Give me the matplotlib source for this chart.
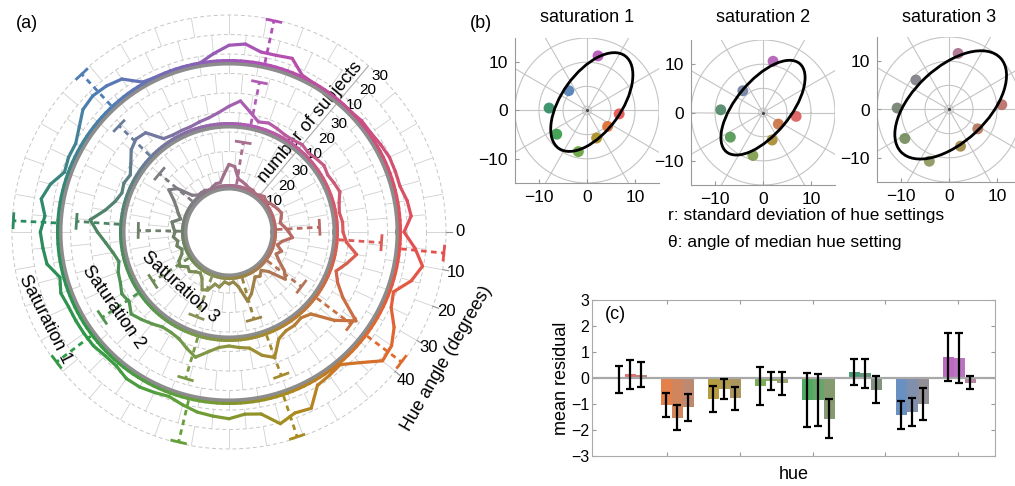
import numpy as np
import matplotlib
matplotlib.use('Agg')
import matplotlib.pyplot as plt
from matplotlib.collections import LineCollection
from matplotlib.colors import to_rgb
from matplotlib.patches import Ellipse

plt.rcParams['font.family'] = ['Liberation Sans', 'DejaVu Sans']

# ---------------- data ----------------
# (a) histograms of hue settings, 5 deg bins (clockwise from 0), number of subjects
bin_angles = np.arange(0, 360, 5)
counts_sat1 = [9, 15, 20, 16, 9, 11, 17, 21, 22, 14, 8, 9,
               10, 19, 18, 21, 14, 13, 15, 14, 13, 11, 9, 10,
               11, 11, 9, 9, 10, 10, 10, 10, 11, 9, 14, 15,
               16, 14, 17, 14, 9, 10, 10, 13, 17, 18, 17, 15,
               8, 7, 7, 7, 7, 11, 15, 16, 13, 13, 14, 8,
               7, 7, 7, 7, 8, 8, 9, 10, 10, 10, 12, 13]
counts_sat2 = [10, 12, 18, 14, 10, 13, 19, 31, 22, 11, 9, 10,
               10, 12, 20, 17, 12, 11, 10, 11, 14, 18, 15, 12,
               11, 11, 13, 15, 17, 14, 15, 13, 12, 10, 12, 15,
               19, 23, 16, 12, 10, 11, 10, 13, 17, 19, 18, 10,
               9, 9, 9, 10, 11, 13, 16, 19, 14, 10, 11, 10,
               9, 9, 10, 9, 10, 11, 10, 11, 12, 10, 9, 10]
counts_sat3 = [14, 16, 11, 9, 12, 10, 13, 18, 21, 12, 9, 11,
               10, 13, 17, 20, 12, 9, 10, 9, 12, 11, 15, 16,
               11, 9, 10, 12, 11, 14, 13, 10, 9, 11, 10, 12,
               11, 12, 13, 9, 11, 13, 16, 21, 18, 10, 8, 8,
               8, 7, 8, 9, 9, 13, 18, 17, 11, 10, 9, 8,
               8, 7, 8, 9, 8, 9, 10, 11, 12, 11, 10, 12]

# median hue angle of the 8 test hues (deg)
hue_sat1 = [5.6, 37, 71.6, 103.5, 143, 183, 227, 282]
hue_sat2 = [4, 37, 70, 106.5, 146, 184, 224, 281.5]
hue_sat3 = [-3, 37, 74, 111, 147, 181, 220, 279]

subject_ticks = [10, 20, 30]
hue_ticks = [0, 10, 20, 30, 40]

# (b) positions of the 8 hues (x, y)
x_sat1 = [6.7, 4.3, 2.0, -1.8, -6.3, -7.9, -3.8, 2.3]
y_sat1 = [-0.7, -3.3, -5.7, -8.5, -4.9, 0.5, 4.1, 11.3]
x_sat2 = [6.9, 3.2, 1.9, -2.1, -6.8, -8.8, -4.2, 2.1]
y_sat2 = [-0.8, -2.4, -5.7, -8.9, -5.1, 0.55, 4.5, 10.6]
x_sat3 = [11.0, 6.0, 2.4, -4.1, -9.2, -10.8, -6.9, 1.9]
y_sat3 = [1.0, -4.0, -7.6, -10.7, -6.0, 0.3, 6.1, 11.6]
# fitted ellipses: centre x, centre y, semi-major, semi-minor, angle (deg)
ell_sat1 = [1.0, 1.75, 11.8, 6.2, 54]
ell_sat2 = [0.0, 1.0, 11.9, 5.6, 50]
ell_sat3 = [0.35, 0.95, 14.2, 7.7, 43]

# (c) mean residual per hue, one list per saturation, and error bars
res_sat1 = [-0.05, -1.03, -0.80, -0.29, -0.84, 0.23, -1.42, 0.82]
res_sat2 = [0.15, -1.52, -0.42, -0.12, -0.84, 0.18, -1.30, 0.77]
res_sat3 = [0.12, -1.13, -0.78, -0.21, -1.56, -0.45, -1.00, -0.18]
err_sat1 = [0.53, 0.47, 0.51, 0.73, 1.03, 0.50, 0.55, 0.92]
err_sat2 = [0.56, 0.48, 0.37, 0.36, 0.99, 0.56, 0.54, 0.96]
err_sat3 = [0.48, 0.51, 0.44, 0.45, 0.76, 0.52, 0.60, 0.25]

# colours of the 8 hues at each saturation
pal_sat1 = ['#e5504e', '#df6a2c', '#a98b1f', '#64a03a', '#2f9a45', '#2c8a60', '#4f7db5', '#b24fb6']
pal_sat2 = ['#dc5a58', '#c9703f', '#a68a2e', '#7a9a48', '#4f9550', '#4c8464', '#6a7c9c', '#b05cb4']
pal_sat3 = ['#b86a64', '#b37458', '#9b8442', '#8a9258', '#6f8a57', '#6f7f6a', '#7f7c84', '#a86e8e']


def hue_color(a, angs, cols):
    angs = np.asarray(angs, float)
    rgb = np.array([to_rgb(c) for c in cols])
    xa = np.r_[angs[-1] - 360, angs, angs[0] + 360]
    rr = np.vstack([rgb[-1], rgb, rgb[0]])
    a = (a - xa[0]) % 360 + xa[0]
    return tuple(np.interp(a, xa, rr[:, k]) for k in range(3))


fig = plt.figure(figsize=(10.15, 4.86), dpi=100)
W, H = 1015., 486.

# ---------------- (a) ----------------
axa = fig.add_axes([12 / W, 1 - 449 / H, 434 / W, 434 / H], projection='polar')
axa.set_theta_zero_location('E')
axa.set_theta_direction(-1)
axa.set_axis_off()

scale = 1.95  # px per subject
rings = [(counts_sat1, hue_sat1, pal_sat1, 170), (counts_sat2, hue_sat2, pal_sat2, 107),
         (counts_sat3, hue_sat3, pal_sat3, 45)]

# grid
grid_r = [61, 80.5, 100, 119.5, 139, 158.5, 178, 197.5, 217]
th = np.linspace(0, 2 * np.pi, 721)
for r in grid_r:
    axa.plot(th, np.full_like(th, r), color='#c6c6c6', lw=0.7, ls=(0, (4, 3)), zorder=1, clip_on=False)
edges = [45] + grid_r
for k in range(len(edges) - 1):
    off = 5 if k % 2 else 0
    for a in range(0, 360, 10):
        t = np.radians(a + off)
        axa.plot([t, t], [edges[k], edges[k + 1]], color='#d0d0d0', lw=0.6, zorder=1)
t = np.radians(310)
axa.plot([t, t], [45, 217], color='#b0b0b0', lw=0.8, zorder=1)

for counts, hues, pal, base in rings:
    r0 = base - 12.5
    tt = np.radians(np.r_[bin_angles, 360])
    rr = r0 + scale * np.r_[counts, counts[0]]
    pts = np.column_stack([tt, rr])
    segs = np.stack([pts[:-1], pts[1:]], axis=1)
    cols = [hue_color(a + 2.5, hues, pal) for a in bin_angles]
    axa.add_collection(LineCollection(segs, colors=cols, lw=2.3, zorder=4, capstyle='round'))

    # base ring: gray + hue coloured
    axa.plot(th, np.full_like(th, base - 1), color='#8c8c8c', lw=3.6, zorder=5)
    ta = np.radians(np.arange(0, 361, 2))
    cp = np.column_stack([ta, np.full_like(ta, base + 1.5)])
    csegs = np.stack([cp[:-1], cp[1:]], axis=1)
    ccols = [hue_color(a + 1, hues, pal) for a in np.arange(0, 360, 2)]
    axa.add_collection(LineCollection(csegs, colors=ccols, lw=2.2, zorder=6, capstyle='round'))

    # median hue lines
    for h in hues:
        t = np.radians(h)
        c = hue_color(h, hues, pal)
        axa.plot([t, t], [base + 3, base + 46], color=c, lw=2, ls=(0, (2, 1.6)), zorder=3, clip_on=False)
        dt = 7.0 / (base + 46)
        axa.plot([t - dt, t + dt], [base + 46, base + 46], color=c, lw=2, zorder=3, clip_on=False)

    # subject axis labels
    for v in subject_ticks:
        axa.annotate(str(v), xy=(np.radians(310), r0 + scale * v), xytext=(12, -9),
                     textcoords='offset pixels', ha='center', va='center', fontsize=11)

axa.text(np.radians(306.5), 137, 'number of subjects', rotation=50, rotation_mode='anchor',
         ha='center', va='center', fontsize=13)
for v in hue_ticks:
    t = np.radians(v)
    axa.plot([t, t], [217, 223], color='#909090', lw=0.8, clip_on=False)
    axa.text(t, 231, str(v), ha='center', va='center', fontsize=12)
axa.text(np.radians(30), 252, 'Hue angle (degrees)', rotation=60, rotation_mode='anchor',
         ha='center', va='center', fontsize=13)
axa.text(np.radians(154.7), 203, 'Saturation 1', rotation=-63, rotation_mode='anchor',
         ha='center', va='center', fontsize=13)
axa.text(np.radians(147), 138, 'Saturation 2', rotation=-55, rotation_mode='anchor',
         ha='center', va='center', fontsize=13)
axa.text(np.radians(131.7), 74, 'Saturation 3', rotation=-42, rotation_mode='anchor',
         ha='center', va='center', fontsize=13)
axa.set_ylim(0, 217)

fig.text(27 / W, 1 - 23 / H, '(a)', ha='center', va='center', fontsize=13)
fig.text(481 / W, 1 - 23 / H, '(b)', ha='center', va='center', fontsize=13)

# ---------------- (b) ----------------
b_boxes = [(515, 38, 659, 183), (691, 40, 835, 185), (877, 37, 1021, 182)]
b_data = [(x_sat1, y_sat1, ell_sat1, pal_sat1, 'saturation 1'),
          (x_sat2, y_sat2, ell_sat2, pal_sat2, 'saturation 2'),
          (x_sat3, y_sat3, ell_sat3, pal_sat3, 'saturation 3')]
for (x0, y0, x1, y1), (xs, ys, ell, pal, title) in zip(b_boxes, b_data):
    ax = fig.add_axes([x0 / W, 1 - y1 / H, (x1 - x0) / W, (y1 - y0) / H])
    ax.set_xlim(-15, 15)
    ax.set_ylim(-15, 15)
    tc = np.linspace(0, 2 * np.pi, 200)
    for r in [0.4, 0.9, 5, 10, 15]:
        ax.plot(r * np.cos(tc), r * np.sin(tc), color='#c4c4c4', lw=0.8, zorder=1)
    for a in range(0, 360, 30):
        ax.plot([0, 22 * np.cos(np.radians(a))], [0, 22 * np.sin(np.radians(a))],
                color='#c4c4c4', lw=0.8, zorder=1)
    ax.plot(0, 0, 'o', color='#444444', ms=1.2, zorder=2)
    ax.scatter(xs, ys, s=62, c=pal, edgecolors='none', alpha=0.9, zorder=3)
    ax.add_patch(Ellipse((ell[0], ell[1]), 2 * ell[2], 2 * ell[3], angle=ell[4],
                         fill=False, color='black', lw=2, zorder=4))
    ax.set_xticks([-10, 0, 10])
    ax.set_yticks([-10, 0, 10])
    ax.set_xticklabels(['\u221210', '0', '10'])
    ax.set_yticklabels(['\u221210', '0', '10'])
    ax.tick_params(direction='in', length=3, color='#999999', labelsize=12.5, pad=5)
    for s in ['top', 'right']:
        ax.spines[s].set_visible(False)
    for s in ['left', 'bottom']:
        ax.spines[s].set_color('#999999')
    fig.text((x0 + x1) / 2 / W, 1 - 18 / H, title, ha='center', va='center', fontsize=13)

fig.text(668 / W, 1 - 215 / H, 'r: standard deviation of hue settings', ha='left', va='center', fontsize=12.5)
fig.text(668 / W, 1 - 242 / H, '\u03b8: angle of median hue setting', ha='left', va='center', fontsize=12.5)

# ---------------- (c) ----------------
axc = fig.add_axes([592 / W, 1 - 456 / H, 403 / W, 156 / H])
grp = np.arange(1, 9)
bw = 0.234
for j, (vals, errs, pal) in enumerate([(res_sat1, err_sat1, pal_sat1),
                                       (res_sat2, err_sat2, pal_sat2),
                                       (res_sat3, err_sat3, pal_sat3)]):
    xx = grp + (j - 1) * bw
    axc.bar(xx, vals, width=bw, color=pal, alpha=0.85, zorder=2)
    axc.errorbar(xx, vals, yerr=errs, fmt='none', ecolor='black', elinewidth=1.6,
                 capsize=3, capthick=1.6, zorder=4)
axc.axhline(0, color='#a8a8a8', lw=1.6, zorder=3)
axc.set_xlim(0.19, 8.76)
axc.set_ylim(-3, 3)
axc.set_xticks([1.78, 3.33, 4.88, 6.43, 7.98])
axc.set_xticklabels([])
axc.set_yticks([-3, -2, -1, 0, 1, 2, 3])
axc.set_yticklabels(['\u22123', '\u22122', '\u22121', '0', '1', '2', '3'])
axc.tick_params(direction='in', length=3, color='#999999', labelsize=11.5, pad=2,
                top=True, right=True)
for s in axc.spines.values():
    s.set_color('#aaaaaa')
axc.set_ylabel('mean residual', fontsize=13, labelpad=1)
axc.set_xlabel('hue', fontsize=13, labelpad=5)
axc.text(0.057, 0.904, '(c)', transform=axc.transAxes, ha='center', va='center', fontsize=13)

fig.savefig('out.png', dpi=100)
